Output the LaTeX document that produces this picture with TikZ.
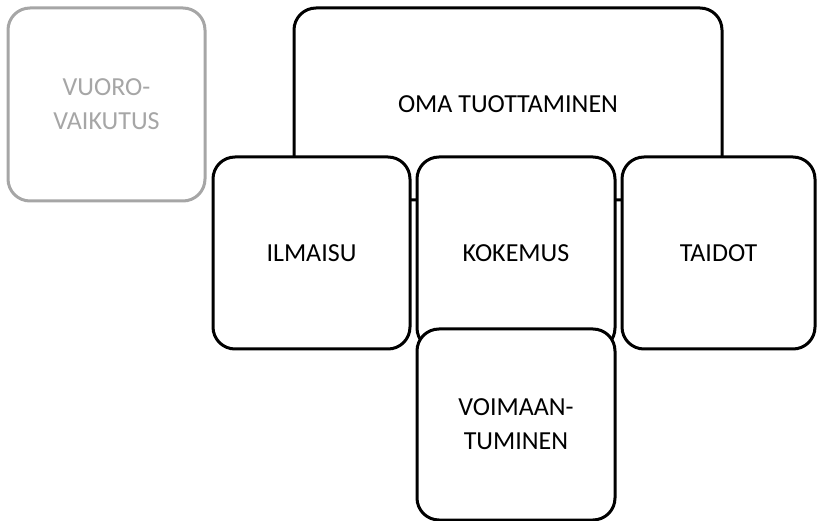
\documentclass[tikz,border=0pt]{standalone}
\usepackage{fontspec}
\setmainfont{Carlito}
\definecolor{softgray}{HTML}{A6A6A6}
\tikzset{
  card/.style={draw=black, line width=3pt, fill=white, rounded corners=22pt,
    rectangle, inner sep=0pt, align=center,
    font=\fontsize{26}{34}\selectfont},
  fadedcard/.style={card, draw=softgray, text=softgray}
}
\begin{document}
\begin{tikzpicture}[x=1pt,y=-1pt]
  \useasboundingbox (0,0) rectangle (817,521);
  % side box
  \node[fadedcard, minimum width=197pt, minimum height=193pt] (vuoro)
    at (106.5,104.5) {VUORO-\\VAIKUTUS};
  % main box behind the row of cards
  \node[card, minimum width=428pt, minimum height=192pt] (oma)
    at (508,104) {OMA TUOTTAMINEN};
  % row of cards
  \node[card, minimum width=197pt, minimum height=192pt] (ilmaisu)
    at (311.5,253) {ILMAISU};
  \node[card, minimum width=198pt, minimum height=193pt] (kokemus)
    at (516,253.5) {KOKEMUS};
  \node[card, minimum width=193pt, minimum height=192pt] (taidot)
    at (718.5,253) {TAIDOT};
  % bottom card
  \node[card, minimum width=198pt, minimum height=191pt] (voimaan)
    at (516,424.5) {VOIMAAN-\\TUMINEN};
\end{tikzpicture}
\end{document}
